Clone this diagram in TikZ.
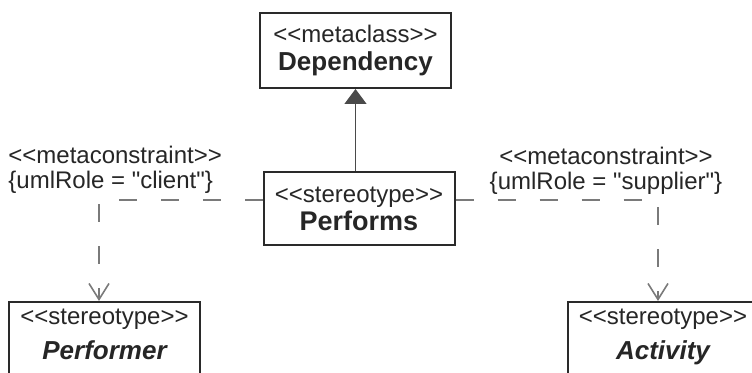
\documentclass[tikz,border=0pt]{standalone}
\usepackage{fontspec}
\newfontfamily\umlfont{Liberation Sans}
\usetikzlibrary{arrows.meta}

\definecolor{boxline}{HTML}{2A2A2A}
\definecolor{dashline}{HTML}{7A7A7A}
\definecolor{umltext}{HTML}{262626}

\begin{document}
\begin{tikzpicture}[x=0.5pt,y=-0.5pt,
  umlbox/.style={draw=boxline,line width=1pt,fill=white,align=center,text=umltext,
    minimum width=95.5pt,inner xsep=2pt,inner ysep=2pt,font=\umlfont\fontsize{12}{14}\selectfont},
  cons/.style={font=\umlfont\fontsize{12}{12.5}\selectfont,text=umltext,inner sep=0pt},
  realize/.style={draw=dashline,line width=0.8pt,dash pattern=on 9pt off 12pt,
    -{Straight Barb[length=8pt,width=10pt]}},
  general/.style={draw=boxline!85,line width=0.7pt,-{Triangle[length=7.5pt,width=11pt]}}]

\fill[white] (0,0) rectangle (752,373);% поле рисунка
\clip (0,0) rectangle (752,373);

\node[umlbox,minimum height=37.5pt] (dep) at (355.5,50.5) {<<metaclass>>\\{\fontsize{13}{14}\selectfont\bfseries Dependency}};
\node[umlbox,minimum height=36.5pt] (perf) at (359,208.5) {<<stereotype>>\\{\fontsize{13.5}{14}\selectfont\bfseries Performs}};% стереотип

\node[umlbox,anchor=north,inner ysep=3.5pt,text depth=30pt] (performer) at (104.5,301) {<<stereotype>>\\[3.5pt]{\fontsize{13}{14}\selectfont\bfseries\itshape Performer}};
\node[umlbox,anchor=north,inner ysep=3.5pt,text depth=30pt] (activity) at (663,301) {<<stereotype>>\\[3.5pt]{\fontsize{13}{14}\selectfont\bfseries\itshape Activity}};% нижние классы

\node[cons,anchor=west,align=left] (lrole) at (8,170) {<<metaconstraint>>\\\{umlRole = "client"\}};
\node[cons,align=center] (rrole) at (606,171) {<<metaconstraint>>\\\{umlRole = "supplier"\}};% ограничения

\coordinate (lk) at (99,200);
\coordinate (rk) at (658,200);% изломы

\draw[general] (perf.north -| dep.south) -- (dep.south);
\draw[realize] (perf.west |- lk) -- (lk) -- (lk |- performer.north);
\draw[realize] (perf.east |- rk) -- (rk) -- (rk |- activity.north);

\end{tikzpicture}
\end{document}
